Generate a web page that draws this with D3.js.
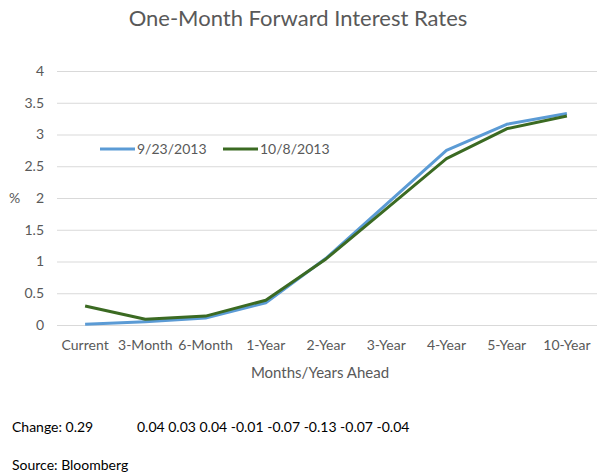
<!DOCTYPE html>
<html><head><meta charset="utf-8">
<script src="https://cdn.jsdelivr.net/npm/d3@7"></script>
<style>body{margin:0;background:#fff}svg{display:block}text{font-family:Lato,"Open Sans",sans-serif}</style>
</head><body>
<svg id="c" width="600" height="476"></svg>
<script>
const categories = ["Current","3-Month","6-Month","1-Year","2-Year","3-Year","4-Year","5-Year","10-Year"];
const seriesNames = ["9/23/2013","10/8/2013"];
const sep23 = [0.01,0.05,0.11,0.35,1.05,1.90,2.75,3.16,3.33];
const oct8 = [0.30,0.09,0.14,0.39,1.04,1.83,2.62,3.09,3.29];
const yTicks = [0,0.5,1,1.5,2,2.5,3,3.5,4];
const changeFirst = "Change: 0.29";
const changeRest = "0.04 0.03 0.04 -0.01 -0.07 -0.13 -0.07 -0.04";

const svg = d3.select("#c");
const x = d3.scaleBand().domain(categories).range([55,597]);
const y = d3.scaleLinear().domain([0,4]).range([325,71]);
const grey = "#595959";

svg.append("text").attr("x",298).attr("y",26).attr("text-anchor","middle")
  .attr("font-size",22).attr("fill",grey).text("One-Month Forward Interest Rates");

const ya = svg.append("g").attr("transform","translate(57,0)")
  .call(d3.axisLeft(y).tickValues(yTicks).tickSize(-540).tickFormat(d3.format("")).tickPadding(13));
ya.select(".domain").remove();
ya.selectAll("line").attr("stroke","#d9d9d9");
ya.selectAll("text").attr("font-size",14).attr("fill",grey).style("font-family","Lato,'Open Sans',sans-serif");

const xa = svg.append("g").attr("transform","translate(0,325)")
  .call(d3.axisBottom(x).tickSize(0).tickPadding(15));
xa.select(".domain").remove();
xa.selectAll("text").attr("font-size",14).attr("fill",grey).style("font-family","Lato,'Open Sans',sans-serif");

svg.append("text").attr("x",320).attr("y",378).attr("text-anchor","middle")
  .attr("font-size",15).attr("fill",grey).text("Months/Years Ahead");
svg.append("text").attr("x",9).attr("y",203).attr("font-size",14).attr("fill",grey).text("%");

const line = d3.line().x((d,i)=>x(categories[i])+x.bandwidth()/2).y(d=>y(d));
const colors = ["#5B9BD5","#3B6A22"];
[sep23,oct8].forEach((s,k)=>{
  svg.append("path").datum(s).attr("d",line).attr("fill","none")
    .attr("stroke",colors[k]).attr("stroke-width",3).attr("stroke-linejoin","round");
});

const lx = [100,223];
seriesNames.forEach((n,k)=>{
  svg.append("line").attr("x1",lx[k]).attr("x2",lx[k]+35).attr("y1",149).attr("y2",149)
    .attr("stroke",colors[k]).attr("stroke-width",3);
  svg.append("text").attr("x",lx[k]+37).attr("y",154).attr("font-size",14).attr("fill",grey).text(n);
});

svg.append("text").attr("x",12).attr("y",432).attr("font-size",14).attr("fill","#000").text(changeFirst);
svg.append("text").attr("x",137).attr("y",432).attr("font-size",14).attr("fill","#000").text(changeRest);
svg.append("text").attr("x",12).attr("y",470).attr("font-size",14).attr("fill","#000").text("Source: Bloomberg");
</script>
</body></html>
